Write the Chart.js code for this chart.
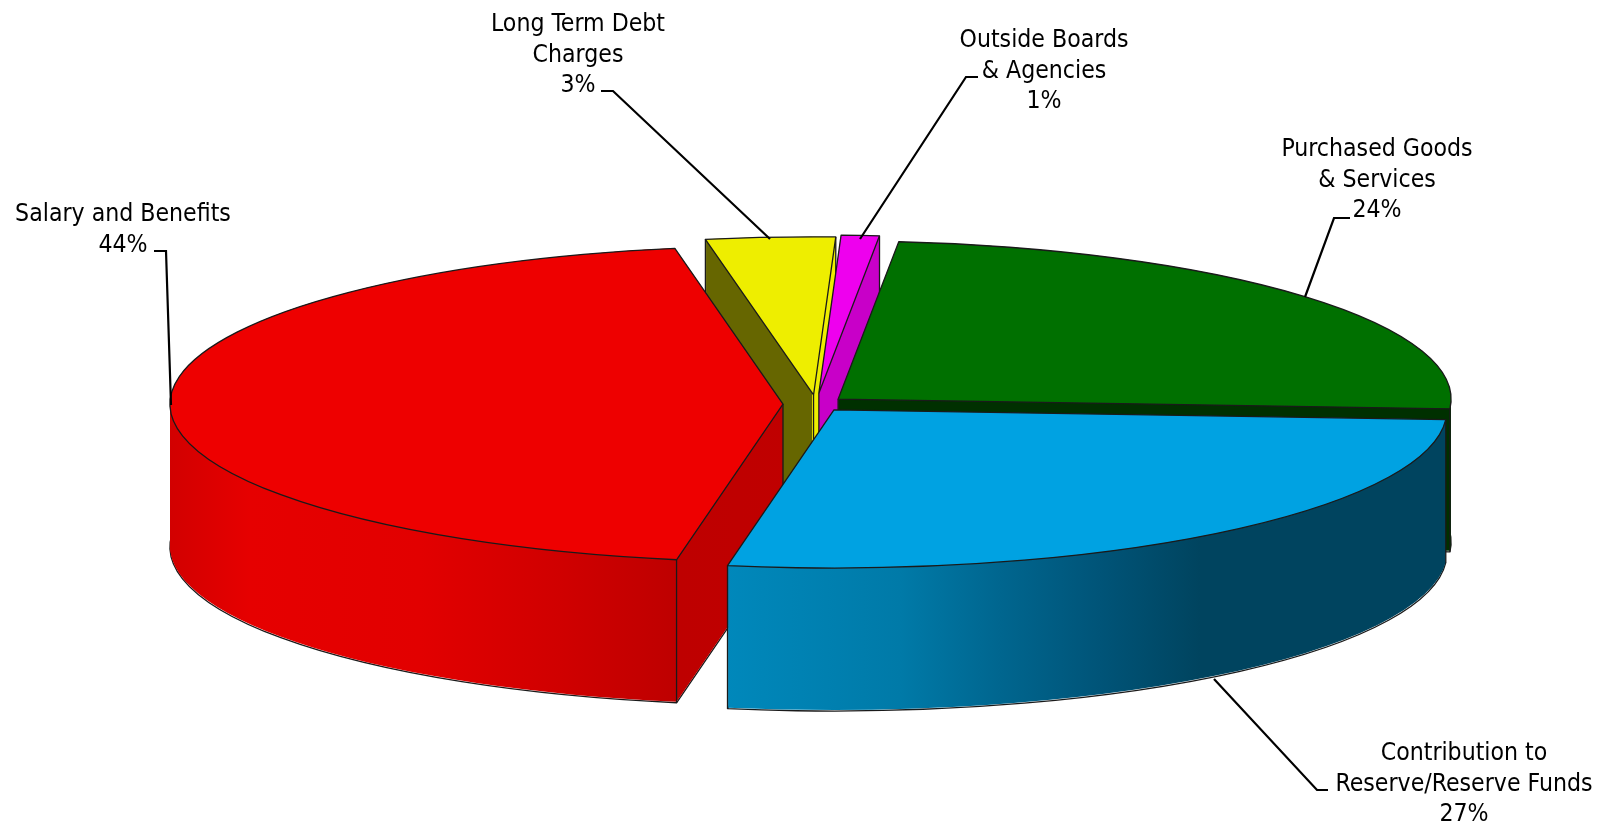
<!DOCTYPE html>
<html><head><meta charset="utf-8">
<style>html,body{margin:0;padding:0;background:#fff}canvas{display:block}</style>
<script src="https://cdn.jsdelivr.net/npm/chart.js@4"></script>
</head><body><canvas id="c" width="1606" height="826"></canvas>
<script>
const categories = ["Salary and Benefits","Long Term Debt Charges","Outside Boards & Agencies","Purchased Goods & Services","Contribution to Reserve/Reserve Funds"];
const shares = [44.4, 3.4, 1.0, 24.4, 26.8];
const percentLabels = ["44%","3%","1%","24%","27%"];
const labelLines = [["Salary and Benefits"],["Long Term Debt","Charges"],["Outside Boards","& Agencies"],["Purchased Goods","& Services"],["Contribution to","Reserve/Reserve Funds"]];

const topColors = ["#EE0000","#EEEE00","#EE00EE","#007000","#00A2E2"];
const explode = [33,35,42,29,29];
const paintOrder = [1,2,3,0,4];
const CX=816, CY=404, K=0.258, DEPTH=143, RADIUS=613;
const FONT='24.6px "DejaVu Sans Condensed","DejaVu Sans",sans-serif';
const LINE=30.5;
const labelPos = [{x:123,y:221},{x:578,y:31},{x:1044,y:47},{x:1377,y:156},{x:1464,y:760}];
const leaders = [
  [[154,251],[166,251],[171,405]],
  [[601,91],[613,91],[770,239]],
  [[978,77],[966,77],[860,239]],
  [[1350,218],[1334,218],[1305,297]],
  [[1328,790],[1317,790],[1214,679]]
];
function sideFill(ctx,i,dx){
  const stops = [
    [[170,"#D20000"],[250,"#E60000"],[420,"#E20000"],[560,"#D00000"],[677,"#BE0000"],[800,"#C00000"]],
    [[811.5,"#666600"],[812.5,"#EEEE00"]],
    [[0,"#C800C8"],[1606,"#C800C8"]],
    [[0,"#003000"],[1606,"#003000"]],
    [[727,"#0088BB"],[900,"#007AA8"],[1000,"#00668F"],[1100,"#005478"],[1200,"#00445F"],[1446,"#00445F"]]
  ][i];
  const g = ctx.createLinearGradient(-dx,0,1606-dx,0);
  stops.forEach(s=>g.addColorStop(Math.min(1,Math.max(0,s[0]/1606)),s[1]));
  return g;
}
const pie3d = {
  id:'pie3d',
  beforeDatasetDraw(chart,args){
    const ctx=chart.ctx, arcs=chart.getDatasetMeta(args.index).data;
    const cx=arcs[0].x, cy=arcs[0].y;
    const dx=CX-cx;
    const geo=(a,i)=>{
      const off=explode[i], mid=(a.startAngle+a.endAngle)/2;
      return {x:CX+off*Math.cos(mid), y:CY+K*off*Math.sin(mid), s:a.startAngle, e:a.endAngle, r:a.outerRadius, ox:off*Math.cos(mid), oy:off*Math.sin(mid)};
    };
    const outline=(g,dy)=>{
      ctx.beginPath();
      ctx.moveTo(g.x,g.y+dy);
      ctx.ellipse(g.x,g.y+dy,g.r,g.r*K,0,g.s,g.e);
      ctx.closePath();
      ctx.stroke();
    };
    const paint=(a,g,fill,dy)=>{
      const saved=a.options;
      a.options={offset:0,spacing:0,borderWidth:0,borderRadius:0,borderAlign:'center',circular:true,backgroundColor:fill,borderColor:fill};
      ctx.save();
      ctx.translate(CX,CY+dy); ctx.scale(1,K); ctx.translate(g.ox-cx,g.oy-cy);
      a.draw(ctx);
      ctx.restore();
      a.options=saved;
    };
    const vertical=(x,y)=>{ctx.beginPath();ctx.moveTo(x,y);ctx.lineTo(x,y+DEPTH);ctx.stroke();};
    ctx.save();
    ctx.strokeStyle='#1a1a1a'; ctx.lineWidth=1.3; ctx.lineJoin='round';
    paintOrder.forEach(i=>{
      const a=arcs[i], g=geo(a,i);
      const fill=sideFill(ctx,i,dx+g.ox);
      outline(g,DEPTH);
      for(let d=DEPTH-1;d>=0;d--) paint(a,g,fill,d);
      vertical(g.x,g.y);
      const sx=g.x+g.r*Math.cos(g.s), sBack=Math.sin(g.s)<0;
      const ex=g.x+g.r*Math.cos(g.e), eBack=Math.sin(g.e)<0;
      if(!(sBack && sx>g.x)) vertical(sx,g.y+g.r*K*Math.sin(g.s));
      if(!(eBack && ex<g.x)) vertical(ex,g.y+g.r*K*Math.sin(g.e));
      paint(a,g,topColors[i],0);
      outline(g,0);
    });
    ctx.restore();
    return false;
  },
  afterDatasetsDraw(chart){
    const ctx=chart.ctx;
    ctx.save();
    ctx.strokeStyle='#000'; ctx.lineWidth=2.2; ctx.lineJoin='miter';
    leaders.forEach(l=>{ctx.beginPath();l.forEach((p,j)=>j?ctx.lineTo(p[0],p[1]):ctx.moveTo(p[0],p[1]));ctx.stroke();});
    ctx.fillStyle='#000'; ctx.font=FONT; ctx.textAlign='center'; ctx.textBaseline='alphabetic';
    labelLines.forEach((ls,i)=>{
      const lines=ls.concat([percentLabels[i]]);
      lines.forEach((t,j)=>ctx.fillText(t,labelPos[i].x,labelPos[i].y+j*LINE));
    });
    ctx.restore();
  }
};
new Chart(document.getElementById('c').getContext('2d'),{
  type:'pie',
  data:{labels:categories,datasets:[{data:shares,backgroundColor:topColors,borderWidth:0}]},
  options:{responsive:false,animation:false,devicePixelRatio:1,rotation:190,radius:RADIUS,
    events:[],layout:{padding:0},plugins:{legend:{display:false},tooltip:{enabled:false},title:{display:false}}},
  plugins:[pie3d]
});
</script></body></html>
